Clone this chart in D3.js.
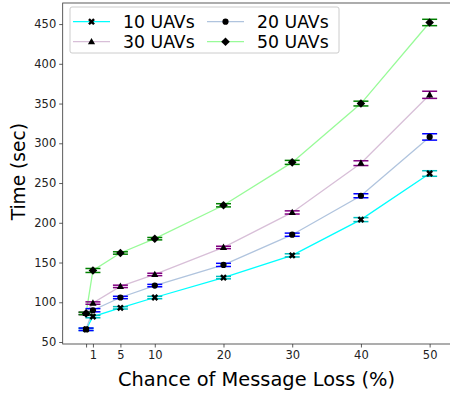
<!DOCTYPE html>
<html>
<head>
<meta charset="utf-8">
<script src="https://cdn.jsdelivr.net/npm/d3@7"></script>
<style>
  html, body { margin: 0; padding: 0; background: #fff; }
  svg { display: block; font-family: "DejaVu Sans", sans-serif; }
</style>
</head>
<body>
<div id="chart"></div>
<script>
// message-loss chance (%) on x
const lossPct = [0, 1, 5, 10, 20, 30, 40, 50];
const xTicks = [0, 1, 5, 10, 20, 30, 40, 50];
const xTickLabels = ['', '1', '5', '10', '20', '30', '40', '50'];
const yTicks = [50, 100, 150, 200, 250, 300, 350, 400, 450];

// mean completion time (sec) and error half-widths per swarm size
const t10 = [66, 82, 93, 106, 131, 159, 204, 262];
const e10 = [1.5, 1.5, 1.5, 1.5, 1.5, 2, 2.5, 3.5];
const t20 = [66, 90, 106, 121, 147, 185, 234, 308];
const e20 = [1.5, 2, 1.5, 1.5, 2, 2, 2.5, 4];
const t30 = [86, 99, 120, 135, 169, 213, 275, 361];
const e30 = [1.5, 1.5, 1.5, 1.5, 1.5, 2, 3, 4.5];
const t50 = [86, 140, 162, 180, 222, 276, 350, 452];
const e50 = [1.5, 2.5, 1.5, 1.5, 2, 2.5, 3, 4];

const seriesNames = ['10 UAVs', '20 UAVs', '30 UAVs', '50 UAVs'];

const series = [
  { name: seriesNames[0], vals: t10, errs: e10, line: '#00ffff', err: '#00bfbf', marker: 'x' },
  { name: seriesNames[1], vals: t20, errs: e20, line: '#b0c4de', err: '#0000ff', marker: 'o' },
  { name: seriesNames[2], vals: t30, errs: e30, line: '#d8bfd8', err: '#800080', marker: '^' },
  { name: seriesNames[3], vals: t50, errs: e50, line: '#98fb98', err: '#008000', marker: 'D' }
];

const W = 450, H = 396;
const svg = d3.select('#chart').append('svg').attr('width', W).attr('height', H);

const x = d3.scaleLinear().domain([-3.4, 53.4]).range([62.7, 453]);
const y = d3.scaleLinear().domain([47.5, 476.5]).range([344, 3]);

function markerPath(kind) {
  if (kind === 'x') {
    // filled X
    const a = 3.4, b = 1.7;
    return `M${-a},${-a + b}L${-a + b},${-a}L0,${-b}L${a - b},${-a}L${a},${-a + b}L${b},0L${a},${a - b}L${a - b},${a}L0,${b}L${-a + b},${a}L${-a},${a - b}L${-b},0Z`;
  }
  if (kind === 'o') return d3.symbol(d3.symbolCircle, 30)();
  if (kind === '^') return 'M0,-3.8L3.6,2.6L-3.6,2.6Z';
  return 'M0,-4.3L4.3,0L0,4.3L-4.3,0Z';
}

// axes
const xAxis = svg.append('g').attr('transform', 'translate(0,344)')
  .call(d3.axisBottom(x).tickValues(xTicks).tickSize(3.5).tickPadding(3)
    .tickFormat((d, i) => xTickLabels[i]));
const yAxis = svg.append('g').attr('transform', 'translate(62.7,0)')
  .call(d3.axisLeft(y).tickValues(yTicks).tickSize(3.5).tickPadding(3));
[xAxis, yAxis].forEach(g => {
  g.select('.domain').remove();
  g.selectAll('line').attr('stroke', '#333').attr('stroke-width', 0.8);
  g.selectAll('text').attr('fill', '#222').attr('font-size', 11.5)
    .attr('font-family', '"DejaVu Sans", sans-serif');
});

// frame
svg.append('rect').attr('x', 62.7).attr('y', 3).attr('width', 453 - 62.7).attr('height', 341)
  .attr('fill', 'none').attr('stroke', '#333').attr('stroke-width', 0.8);

const line = d3.line().x((d, i) => x(lossPct[i])).y(d => y(d));

series.forEach(s => {
  svg.append('path').datum(s.vals).attr('d', line)
    .attr('fill', 'none').attr('stroke', s.line).attr('stroke-width', 1.3);
});

series.forEach(s => {
  const g = svg.append('g');
  s.vals.forEach((v, i) => {
    const cx = x(lossPct[i]);
    const y0 = y(v - s.errs[i]), y1 = y(v + s.errs[i]);
    g.append('line').attr('x1', cx).attr('x2', cx).attr('y1', y0).attr('y2', y1)
      .attr('stroke', s.err).attr('stroke-width', 1.5);
    [y0, y1].forEach(yy => g.append('line')
      .attr('x1', cx - 7.5).attr('x2', cx + 7.5).attr('y1', yy).attr('y2', yy)
      .attr('stroke', s.err).attr('stroke-width', 1.5));
  });
});

series.forEach(s => {
  svg.append('g').selectAll('path').data(s.vals).enter().append('path')
    .attr('d', markerPath(s.marker))
    .attr('transform', (d, i) => `translate(${x(lossPct[i])},${y(d)})`)
    .attr('fill', '#000');
});

// legend
const leg = svg.append('g');
leg.append('rect').attr('x', 70).attr('y', 7).attr('width', 269).attr('height', 46).attr('rx', 2)
  .attr('fill', '#fff').attr('fill-opacity', 0.8).attr('stroke', '#ccc').attr('stroke-width', 1);
const legPos = [
  { s: series[0], x: 73, y: 21.7 },
  { s: series[2], x: 73, y: 41.7 },
  { s: series[1], x: 207, y: 21.7 },
  { s: series[3], x: 207, y: 41.7 }
];
legPos.forEach(p => {
  leg.append('line').attr('x1', p.x).attr('x2', p.x + 37).attr('y1', p.y).attr('y2', p.y)
    .attr('stroke', p.s.line).attr('stroke-width', 1.3);
  leg.append('path').attr('d', markerPath(p.s.marker))
    .attr('transform', `translate(${p.x + 18.5},${p.y})`).attr('fill', '#000');
  leg.append('text').attr('x', p.x + 50).attr('y', p.y + 6.2)
    .attr('font-size', 17.3).attr('fill', '#000').text(p.s.name);
});

// axis titles
svg.append('text').attr('x', 256.5).attr('y', 386).attr('text-anchor', 'middle')
  .attr('font-size', 19.4).attr('fill', '#000').text('Chance of Message Loss (%)');
svg.append('text').attr('transform', 'translate(24.5,171.7) rotate(-90)')
  .attr('text-anchor', 'middle').attr('font-size', 18.6).attr('fill', '#000').text('Time (sec)');
</script>
</body>
</html>
